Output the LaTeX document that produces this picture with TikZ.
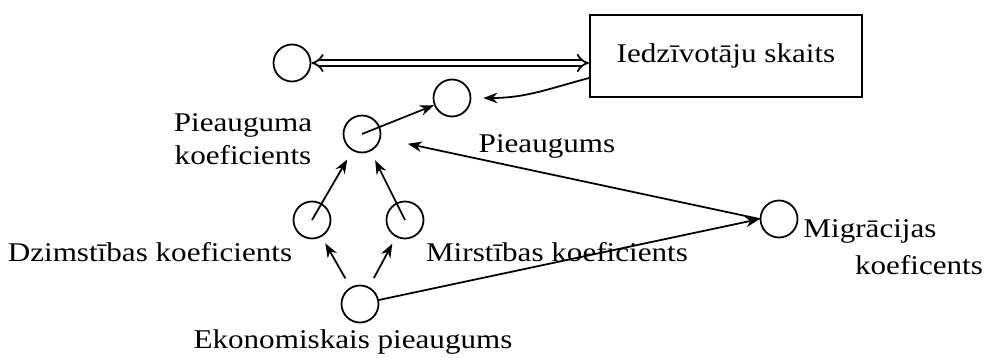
\documentclass[tikz,border=0pt]{standalone}
\usepackage{fontspec}
\setmainfont[FakeStretch=1.15]{Liberation Serif}
\usetikzlibrary{arrows.meta}
\begin{document}
\begin{tikzpicture}[x=0.02cm,y=-0.02cm,line width=1pt,>={Stealth[length=8pt,width=6pt]},
  every node/.style={font=\fontsize{15.4}{18.5}\selectfont,inner sep=1pt},
  aux/.style={circle,draw,minimum size=0.74cm,inner sep=0pt}]
\useasboundingbox (0,0) rectangle (987,358);
\node[aux] (src) at (292,63) {};\node[draw,line width=1.1pt,minimum width=5.44cm,minimum height=1.64cm] (pop) at (726,56) {Iedzīvotāju skaits};
\node[aux] (pg) at (452,98) {};\node[aux] (pk) at (362,134) {};\node[aux] (dz) at (312,220) {};\node[aux] (mi) at (405,220) {};
\node[aux] (mg) at (779,219) {};\node[aux] (ek) at (360,304) {};
\node[align=center] (lpk) at (243,139) {Pieauguma\\koeficients};\node (lpg) at (547,146) {Pieaugums};
\node (ldz) at (150,252) {Dzimstības koeficients};\node (lmi) at (557,252) {Mirstības koeficients};
\node (lmg) at (870,231) {Migrācijas};\node (lmg2) at (919,265) {koeficents};\node (lek) at (353,342) {Ekonomiskais pieaugums};
\draw[double,double distance=2.5pt,{Implies}-{Implies}] (src) -- (pop.west|-src);
\coordinate (pout) at ([yshift=-0.3cm]pop.west|-src);\draw[->] (pout) to[out=195,in=0] ([xshift=0.24cm]pg.east);
\draw[->] (pk.center) -- (pg);
\draw[->,shorten >=0.2cm] (dz.center) -- (pk);\draw[->,shorten >=0.2cm] (mi.center) -- (pk);
\draw[->,shorten >=0.55cm] (mg.west) -- (pk);
\draw[->,shorten <=0.2cm,shorten >=0.15cm] (ek) -- (dz);\draw[->,shorten <=0.2cm,shorten >=0.15cm] (ek) -- (mi);
\draw[->] (ek) -- (mg.west);
\end{tikzpicture}
\end{document}
